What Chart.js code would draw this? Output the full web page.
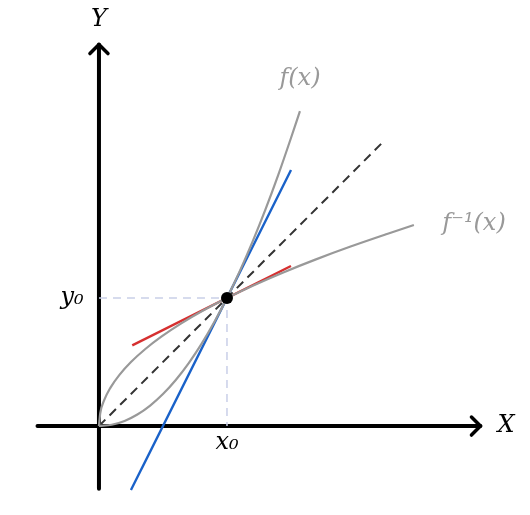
<!DOCTYPE html>
<html><head><meta charset="utf-8">
<script src="https://cdn.jsdelivr.net/npm/chart.js@4/dist/chart.umd.min.js"></script>
<style>html,body{margin:0;padding:0;background:#fff}#w{width:530px;height:515px}</style>
</head><body><div id="w"><canvas id="c"></canvas></div>
<script>
const xs = [0,0.1,0.2,0.3,0.4,0.5,0.6,0.7,0.8,0.9,1,1.1,1.2,1.3,1.4,1.5,1.57];
const fx = [0,0.01,0.04,0.09,0.16,0.25,0.36,0.49,0.64,0.81,1,1.21,1.44,1.69,1.96,2.25,2.46];
const diag = [[0,0],[2.23,2.23]];
const tanF = [[0.25,-0.5],[1.5,2]];
const tanInv = [[0.26,0.63],[1.5,1.25]];
const x0 = 1, y0 = 1;
const pts = (a,b)=>a.map((v,i)=>({x:v,y:b[i]}));
const P = a=>a.map(p=>({x:p[0],y:p[1]}));
const lbl = [
 {t:'Y',x:0,y:3.17,c:'#000'},{t:'X',x:3.18,y:0,c:'#000'},
 {t:'f(x)',x:1.57,y:2.71,c:'#999'},{t:'f⁻¹(x)',x:2.93,y:1.58,c:'#999'},
 {t:'y₀',x:-0.21,y:1,c:'#000'},{t:'x₀',x:1,y:-0.13,c:'#000'}];
const deco = {
 id:'deco',
 beforeDatasetsDraw(ch){
  const {ctx,scales:{x,y}}=ch; const X=v=>x.getPixelForValue(v),Y=v=>y.getPixelForValue(v);
  ctx.save(); ctx.strokeStyle='#000'; ctx.lineWidth=4; ctx.lineCap='round'; ctx.lineJoin='round';
  ctx.beginPath(); ctx.moveTo(X(-0.48),Y(0)); ctx.lineTo(X(2.98),Y(0));
  ctx.moveTo(X(0),Y(-0.49)); ctx.lineTo(X(0),Y(2.98)); ctx.stroke();
  ctx.lineWidth=3.5; ctx.beginPath();
  ctx.moveTo(X(2.98)-9,Y(0)-9); ctx.lineTo(X(2.98),Y(0)); ctx.lineTo(X(2.98)-9,Y(0)+9);
  ctx.moveTo(X(0)-9,Y(2.98)+9); ctx.lineTo(X(0),Y(2.98)); ctx.lineTo(X(0)+9,Y(2.98)+9);
  ctx.stroke(); ctx.restore();
 },
 afterDatasetsDraw(ch){
  const {ctx,scales:{x,y}}=ch; const X=v=>x.getPixelForValue(v),Y=v=>y.getPixelForValue(v);
  ctx.save(); ctx.fillStyle='#000'; ctx.beginPath(); ctx.arc(X(x0),Y(y0),6,0,Math.PI*2); ctx.fill();
  ctx.font='italic 24px "DejaVu Serif"'; ctx.textAlign='center'; ctx.textBaseline='middle';
  lbl.forEach(l=>{ctx.fillStyle=l.c; ctx.fillText(l.t,X(l.x),Y(l.y));});
  ctx.restore();
 }};
const line=(data,color,w,dash,tension)=>({data,borderColor:color,borderWidth:w,borderDash:dash||[],pointRadius:0,tension:tension||0,cubicInterpolationMode:tension?'monotone':'default',fill:false});
new Chart(document.getElementById('c'),{
 type:'line',
 data:{datasets:[
  line(P([[0,y0],[x0,y0],[x0,0]]),'#c9cfe8',1.5,[8,6]),
  line(pts(xs,fx),'#999',2.2,null,0.4),
  line(pts(fx,xs),'#999',2.2,null,0.4),
  line(P(diag),'#333',2,[9,6]),
  line(P(tanF),'#1a62c9',2.4),
  line(P(tanInv),'#d63030',2.4)
 ]},
 options:{responsive:true,maintainAspectRatio:false,animation:false,
  layout:{padding:0},
  plugins:{legend:{display:false},tooltip:{enabled:false}},
  scales:{x:{type:'linear',min:-0.773,max:3.367,display:false},
          y:{type:'linear',min:-0.695,max:3.328,display:false}}},
 plugins:[deco]
});
</script></body></html>
